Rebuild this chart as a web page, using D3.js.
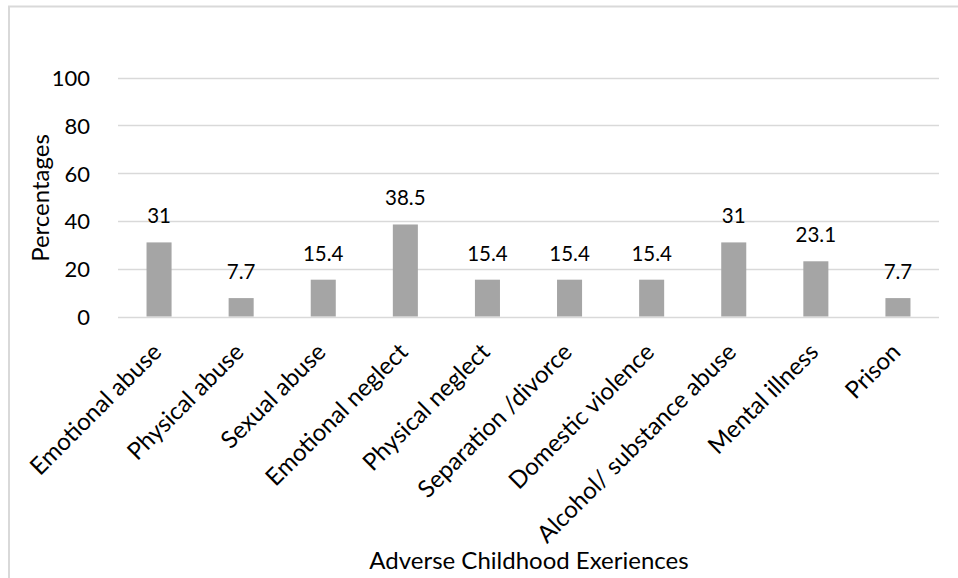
<!DOCTYPE html>
<html>
<head>
<meta charset="utf-8">
<script src="https://cdn.jsdelivr.net/npm/d3@7/dist/d3.min.js"></script>
<style>
  html, body { margin: 0; padding: 0; background: #fff; }
  svg { display: block; }
  text { font-family: Lato, "Open Sans", sans-serif; fill: #000; }
</style>
</head>
<body>
<svg id="chart" width="958" height="578"></svg>
<script>
const categories = ["Emotional abuse", "Physical abuse", "Sexual abuse", "Emotional neglect",
  "Physical neglect", "Separation /divorce", "Domestic violence",
  "Alcohol/ substance abuse", "Mental illness", "Prison"];
const values = [31, 7.7, 15.4, 38.5, 15.4, 15.4, 15.4, 31, 23.1, 7.7];
const valueLabels = ["31", "7.7", "15.4", "38.5", "15.4", "15.4", "15.4", "31", "23.1", "7.7"];
const yTicks = [0, 20, 40, 60, 80, 100];
const xTitle = "Adverse Childhood Exeriences";
const yTitle = "Percentages";

const svg = d3.select("#chart");
const W = 958, H = 578;

// outer chart border (partially visible)
svg.append("rect")
  .attr("x", 9).attr("y", 6.5)
  .attr("width", W + 20).attr("height", H + 20)
  .attr("fill", "none").attr("stroke", "#d9d9d9").attr("stroke-width", 2);

const plot = { left: 118, right: 939, top: 77.5, bottom: 316.5 };

const x = d3.scaleBand().domain(categories)
  .range([plot.left, plot.right]).paddingInner(0.695).paddingOuter(0.3475);
const y = d3.scaleLinear().domain([0, 100]).range([plot.bottom, plot.top]);

// gridlines
svg.append("g").selectAll("line").data(yTicks).join("line")
  .attr("x1", plot.left).attr("x2", plot.right)
  .attr("y1", d => Math.round(y(d)) + 0.5).attr("y2", d => Math.round(y(d)) + 0.5)
  .attr("stroke", "#d9d9d9").attr("stroke-width", 1.5);

// y axis labels
const yAxis = d3.axisLeft(y).tickValues(yTicks).tickSize(0).tickPadding(0);
const yg = svg.append("g").attr("transform", `translate(${90},0)`).call(yAxis);
yg.select(".domain").remove();
yg.selectAll("text").attr("font-size", 22).attr("font-family", "Lato, sans-serif")
  .attr("fill", "#000").attr("dy", "0.36em");

// bars
svg.append("g").selectAll("rect").data(values).join("rect")
  .attr("x", (d, i) => x(categories[i]))
  .attr("width", x.bandwidth())
  .attr("y", d => y(d))
  .attr("height", d => y(0) - y(d))
  .attr("fill", "#a5a5a5");

// value labels
svg.append("g").selectAll("text").data(values).join("text")
  .attr("x", (d, i) => x(categories[i]) + x.bandwidth() / 2)
  .attr("y", d => y(d) - 19)
  .attr("text-anchor", "middle")
  .attr("font-size", 20.5)
  .text((d, i) => valueLabels[i]);

// category labels (rotated)
const xAxis = d3.axisBottom(x).tickSize(0).tickPadding(0);
const xg = svg.append("g").attr("transform", `translate(0,${plot.bottom})`).call(xAxis);
xg.select(".domain").remove();
xg.selectAll("text")
  .attr("font-size", 24).attr("font-family", "Lato, sans-serif").attr("fill", "#000")
  .attr("text-anchor", "end")
  .attr("dy", 0).attr("y", 0)
  .attr("transform", "translate(4,37) rotate(-45)");

// axis titles
svg.append("text")
  .attr("x", 529).attr("y", 569)
  .attr("text-anchor", "middle").attr("font-size", 24)
  .text(xTitle);

svg.append("text")
  .attr("transform", `translate(49,198) rotate(-90)`)
  .attr("text-anchor", "middle").attr("font-size", 24)
  .text(yTitle);
</script>
</body>
</html>
